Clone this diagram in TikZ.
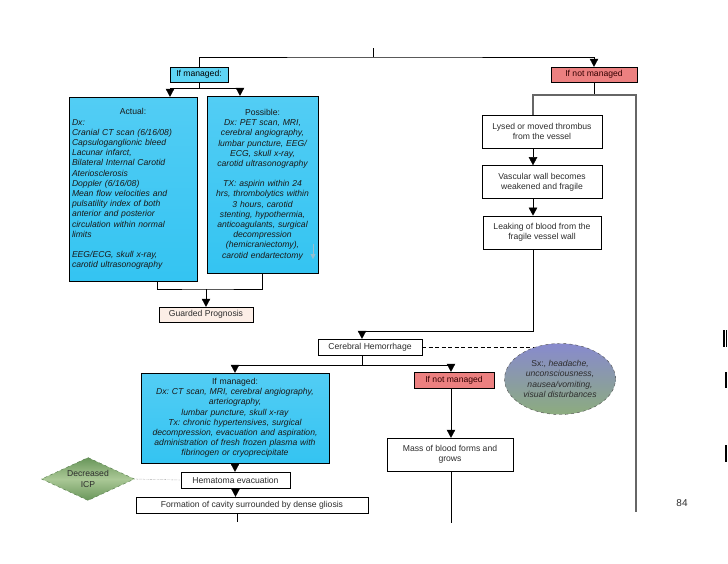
\documentclass[tikz,border=0pt]{standalone}
\usepackage{fontspec}
\setmainfont{Liberation Sans}
\usetikzlibrary{shapes.geometric, arrows.meta, positioning, calc}

\definecolor{celeste}{RGB}{52,196,242}
\definecolor{celesteclaro}{RGB}{95,212,244}
\definecolor{salmon}{RGB}{236,128,128}
\definecolor{durazno}{RGB}{252,238,230}
\definecolor{gristexto}{RGB}{45,45,45}
\newcommand{\letra}{\fontsize{8.6}{10.2}\selectfont\frenchspacing}

\begin{document}
\begin{tikzpicture}[
    x=1pt, y=-1pt,
    caja/.style={
        draw=black,
        fill=white,
        text=gristexto,
        inner sep=1pt,
        align=center,
        font=\letra
    },
    manejo/.style={
        caja,
        top color=celeste!85!white,
        bottom color=celeste,
        text=black!90,
        font=\letra\itshape
    },
    nomanejo/.style={
        caja,
        fill=salmon,
        text=black!80!red
    },
    flecha/.style={
        -{Triangle[width=8.5pt,length=8pt]},
        black
    },
    linea/.style={
        draw=black!60,
        line width=1.4pt
    }
]
\useasboundingbox (0,0) rectangle (728,563);

% Primer nivel
\coordinate (top) at (373,48);
\coordinate (split) at (373,57);
\node (ifman1) [caja, fill=celesteclaro, text=black, minimum width=58pt, minimum height=15pt] at (199,74.5) {If managed:};
\node (ifnot1) [nomanejo, minimum width=86pt, minimum height=15pt] at (594,74.5) {If not managed};

% Rama manejada (arriba)
\node (actual) [manejo, minimum width=128pt, minimum height=184pt, text width=122pt, align=left] at (133,189)
    {\makebox[122pt][c]{\upshape Actual:}\\
     Dx:\\
     Cranial CT scan (6/16/08)\\
     Capsuloganglionic bleed\\
     Lacunar infarct,\\
     Bilateral Internal Carotid\\
     Ateriosclerosis\\
     Doppler (6/16/08)\\
     Mean flow velocities and\\
     pulsatility index of both\\
     anterior and posterior\\
     circulation within normal\\
     limits\\[10pt]
     EEG/ECG, skull x-ray,\\
     carotid ultrasonography\\[16pt]};
\node (possible) [manejo, minimum width=111pt, minimum height=177pt, text width=108pt] at (262.5,184.5)
    {{\upshape Possible:}\\
     Dx: PET scan, MRI,\\
     cerebral angiography,\\
     lumbar puncture, EEG/\\
     ECG, skull x-ray,\\
     carotid ultrasonography\\[10pt]
     TX: aspirin within 24\\
     hrs, thrombolytics within\\
     3 hours, carotid\\
     stenting, hypothermia,\\
     anticoagulants, surgical\\
     decompression\\
     (hemicraniectomy),\\
     carotid endartectomy};
\node (guarded) [caja, fill=durazno, minimum width=94pt, minimum height=15pt] at (206,314.5) {Guarded Prognosis};

% Rama no manejada (arriba)
\node (lysed) [caja, minimum width=120pt, minimum height=33pt] at (542,131.5) {Lysed or moved thrombus\\from the vessel};
\node (vascular) [caja, minimum width=120pt, minimum height=33pt, below=17pt of lysed] {Vascular wall becomes\\weakened and fragile};
\node (leaking) [caja, minimum width=118pt, minimum height=33pt, below=17pt of vascular] {Leaking of blood from the\\fragile vessel wall};

% Hemorragia cerebral
\node (cerebral) [caja, minimum width=104pt, minimum height=16pt] at (370,347) {Cerebral Hemorrhage};
\node (sx) [ellipse, draw=black!70, dashed, top color={rgb,255:red,136;green,138;blue,206}, bottom color={rgb,255:red,140;green,172;blue,126},
            minimum width=111pt, minimum height=71pt, inner sep=0pt, align=center, font=\letra\itshape, text=gristexto] at (560,379)
    {{\upshape Sx:,} headache,\\unconsciousness,\\nausea/vomiting,\\visual disturbances};

% Rama manejada (abajo)
\node (mgd2) [manejo, minimum width=188pt, minimum height=90pt, text width=184pt] at (235,418)
    {{\upshape If managed:}\\
     Dx: CT scan, MRI, cerebral angiography,\\
     arteriography,\\
     lumbar puncture, skull x-ray\\
     Tx: chronic hypertensives, surgical\\
     decompression, evacuation and aspiration,\\
     administration of fresh frozen plasma with\\
     fibrinogen or cryoprecipitate};
\node (hematoma) [caja, minimum width=109pt, minimum height=16pt] at (235.5,480) {Hematoma evacuation};
\node (formation) [caja, minimum width=232pt, minimum height=16pt] at (252,505) {Formation of cavity surrounded by dense gliosis};
\node (icp) [diamond, aspect=2.2, draw={rgb,255:red,80;green,120;blue,70}, dashed, inner sep=0pt, minimum width=93pt, minimum height=43pt,
             top color={rgb,255:red,105;green,150;blue,90}, bottom color={rgb,255:red,105;green,150;blue,90},
             middle color={rgb,255:red,170;green,200;blue,150}, align=center, font=\letra, text=gristexto] at (88,479)
    {Decreased\\ICP};

% Rama no manejada (abajo)
\node (ifnot2) [nomanejo, minimum width=80pt, minimum height=16pt] at (454,380) {If not managed};
\node (mass) [caja, minimum width=126pt, minimum height=33pt] at (450,454.5) {Mass of blood forms and\\grows};

% Numero de pagina
\node (pag) [font=\fontsize{10}{12}\selectfont, text=gristexto] at (682,503) {84};

% Conectores superiores
\draw (top) -- (split);
\draw[flecha] (ifman1.north) |- (split) -| (ifnot1.north);
\coordinate (m1) at (199,88);
\draw (ifman1.south) -- (m1);
\draw[flecha] (m1) -| ([xshift=37pt]actual.north);
\draw[flecha] (m1) -| ([xshift=-22.5pt]possible.north);
\coordinate (m2) at (206,289);
\draw ([xshift=24pt]actual.south) |- (m2) -| (possible.south);
\draw[flecha] (m2) -- (guarded.north);
\draw[-{Triangle[width=5pt,length=5pt]}, cyan!45!gray!70] (313,244) -- (313,259);

% Conectores derecha
\coordinate (m3) at (594,95);
\coordinate (col) at (533,95);
\coordinate (rend) at (636,512);
\draw (ifnot1.south) -- (m3);
\draw[linea] (m3) -| (col |- lysed.north);
\draw[linea] (m3) -| (rend);
\draw[flecha] (col |- lysed.south) -- (col |- vascular.north);
\draw[flecha] (col |- vascular.south) -- (col |- leaking.north);
\coordinate (m4) at (362,331);
\draw[flecha] (col |- leaking.south) |- (m4) -- ([xshift=-8pt]cerebral.north);

% Conectores inferiores
\coordinate (m5) at (362,365);
\draw ([xshift=-8pt]cerebral.south) -- (m5);
\draw[flecha] (m5) -| (mgd2.north);
\draw[flecha] (m5) -| ([xshift=-3pt]ifnot2.north);
\draw[dash pattern=on 4pt off 2.5pt] (cerebral.east) -- (cerebral.east -| sx.130);
\draw[flecha] (mgd2.south) -- (mgd2.south |- hematoma.north);
\draw[flecha] (hematoma.south) -- (hematoma.south |- formation.north);
\coordinate (fend) at (237,522);
\draw (formation.south -| fend) -- (fend);
\draw[densely dotted, black!60] (icp.east) -- (hematoma.west);
\draw[flecha] ([xshift=-3pt]ifnot2.south) -- ([xshift=-3pt]ifnot2.south |- mass.north);
\coordinate (mend) at (451,523);
\draw (mass.south -| mend) -- (mend);

% Marcas del borde
\draw[line width=1.2pt] (724,330) -- (724,347);
\draw[line width=1.2pt] (726.8,330) -- (726.8,347);
\draw[line width=1.6pt] (726,372) -- (726,388);
\draw[line width=1.6pt] (726,445) -- (726,462);

\end{tikzpicture}
\end{document}
